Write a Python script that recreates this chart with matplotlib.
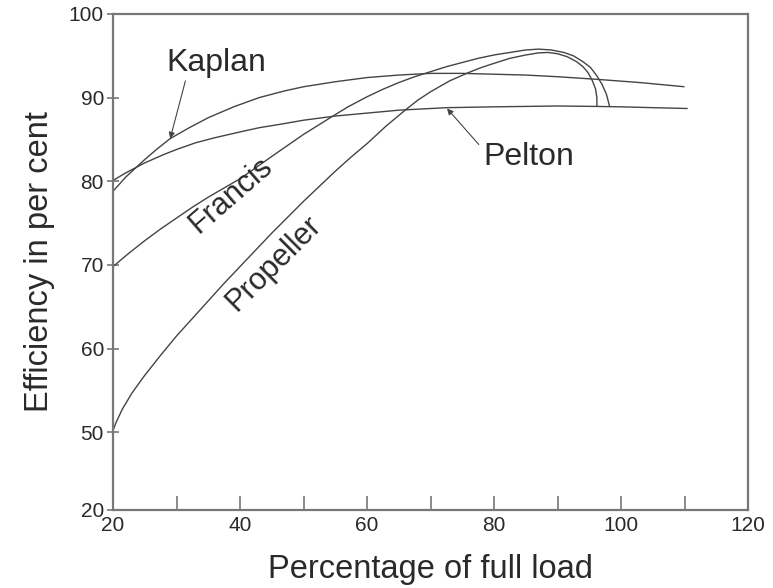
import numpy as np
import matplotlib
matplotlib.use('Agg')
import matplotlib.pyplot as plt

plt.rcParams['font.family'] = ['Liberation Sans', 'DejaVu Sans']

# curves (percentage of full load, efficiency %)
kaplan_x = [20, 22, 25, 27, 29, 32, 35, 39, 43, 47, 50, 55, 60, 65, 70, 75, 80, 85, 90, 96, 103, 110]
kaplan_y = [78.8, 80.5, 82.6, 83.9, 85.1, 86.4, 87.6, 88.9, 90.0, 90.8, 91.3, 91.9, 92.4, 92.7, 92.9, 92.9,
            92.8, 92.7, 92.5, 92.2, 91.8, 91.3]

pelton_x = [20, 22, 25, 28, 30, 33, 36, 40, 43, 47, 50, 55, 60, 65, 72.6, 80, 90, 96, 100, 105, 110.5]
pelton_y = [80.1, 81.0, 82.2, 83.2, 83.8, 84.6, 85.2, 85.9, 86.4, 86.9, 87.3, 87.8, 88.15, 88.5, 88.8, 88.9,
            89.0, 88.95, 88.9, 88.8, 88.7]

francis_x = [20, 22.5, 25, 27.5, 30, 32.5, 35, 37.5, 40, 43, 46, 50, 54, 57, 60, 62.5, 65, 67.5, 70, 72.5,
             75, 77.5, 80, 82.5, 85, 87, 89, 91, 92.5, 94, 95.2, 96.2, 97, 97.7, 98.2]
francis_y = [69.8, 71.4, 72.9, 74.3, 75.6, 76.9, 78.1, 79.2, 80.3, 81.9, 83.5, 85.6, 87.5, 88.9, 90.1, 91.0,
             91.8, 92.5, 93.1, 93.7, 94.2, 94.7, 95.1, 95.4, 95.7, 95.8, 95.7, 95.4, 95.0, 94.3, 93.6, 92.6,
             91.6, 90.4, 88.95]

propeller_x = [20, 20.5, 21.5, 23, 25, 27.5, 30, 32.5, 35, 37.5, 40, 42.5, 45, 47.5, 50, 52.5, 55, 57.5,
               60, 63, 66, 68, 70, 73, 76, 78, 80, 82.5, 85, 87, 88.5, 90, 91.5, 93, 94, 94.8, 95.5, 96,
               96.2, 96.2]
propeller_y = [50.2, 51.2, 52.8, 54.7, 56.8, 59.2, 61.5, 63.6, 65.7, 67.8, 69.8, 71.8, 73.8, 75.7, 77.6, 79.4,
               81.2, 82.9, 84.5, 86.6, 88.5, 89.7, 90.7, 92.0, 93.0, 93.6, 94.1, 94.7, 95.1, 95.35, 95.4,
               95.25, 94.9, 94.3, 93.7, 93.0, 92.0, 91.0, 90.0, 88.95]

x_ticks = [20, 40, 60, 80, 100, 120]
x_minor = [30, 50, 70, 90, 110]
y_bottom = 40.7
y_ticks = [y_bottom, 50, 60, 70, 80, 90, 100]
y_labels = ['20', '50', '60', '70', '80', '90', '100']

line_col = '#444444'
text_col = '#2a2a2a'
spine_col = '#777777'

fig, ax = plt.subplots(figsize=(7.73, 5.88), dpi=100)
fig.subplots_adjust(left=0.1462, right=0.9677, top=0.9762, bottom=0.1327)

for xs, ys in [(kaplan_x, kaplan_y), (pelton_x, pelton_y),
               (francis_x, francis_y), (propeller_x, propeller_y)]:
    ax.plot(xs, ys, color=line_col, lw=1.0, solid_capstyle='butt')

ax.set_xlim(20, 120)
ax.set_ylim(y_bottom, 100)

ax.set_xticks(x_ticks)
ax.set_xticks(x_minor, minor=True)
ax.set_yticks(y_ticks)
ax.set_yticklabels(y_labels)
ax.tick_params(axis='x', which='both', direction='in', length=10, width=1.2,
               color=spine_col, labelsize=15, labelcolor=text_col, pad=4)
ax.tick_params(axis='y', direction='inout', length=9, width=1.2,
               color=spine_col, labelsize=15, labelcolor=text_col, pad=2)
for s in ax.spines.values():
    s.set_color(spine_col)
    s.set_linewidth(1.6)

ax.set_xlabel('Percentage of full load', fontsize=23.5, color=text_col, labelpad=14)
ax.set_ylabel('Efficiency in per cent', fontsize=23.5, color=text_col, labelpad=10)

arrow = dict(arrowstyle='-|>', color=line_col, lw=0.8, mutation_scale=9, shrinkA=0, shrinkB=0)
ax.annotate('', xy=(29, 85.1), xytext=(31.4, 92.0), arrowprops=arrow)
ax.text(36.2, 94.1, 'Kaplan', fontsize=23, color=text_col, ha='center', va='center')
ax.annotate('', xy=(72.6, 88.7), xytext=(77.6, 84.4), arrowprops=arrow)
ax.text(85.4, 82.9, 'Pelton', fontsize=23, color=text_col, ha='center', va='center')
ax.text(38.6, 78.3, 'Francis', fontsize=22, color=text_col, ha='center', va='center',
        rotation=41, rotation_mode='anchor')
ax.text(45.3, 70.2, 'Propeller', fontsize=22, color=text_col, ha='center', va='center',
        rotation=45, rotation_mode='anchor')

fig.savefig('out.png', dpi=100)
